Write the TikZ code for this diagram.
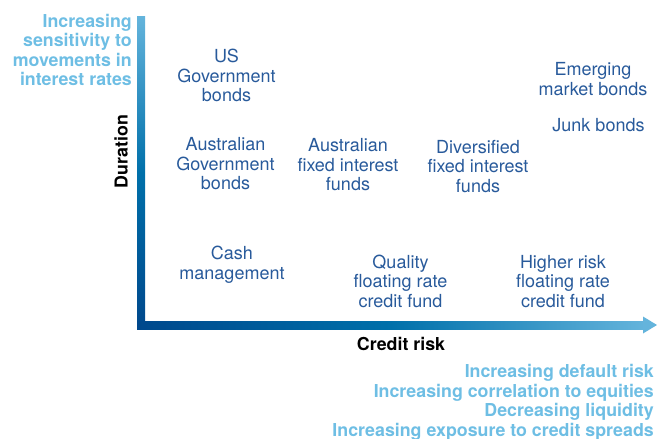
\documentclass[tikz,border=0pt]{standalone}
\usepackage{fontspec}
\setmainfont{TeX Gyre Heros}
\definecolor{labelblue}{RGB}{40,90,155}
\definecolor{notelight}{RGB}{110,190,228}
\definecolor{axdark}{RGB}{0,72,140}
\definecolor{axmid}{RGB}{0,112,170}
\definecolor{axlight}{RGB}{100,180,220}
\begin{document}
\begin{tikzpicture}[x=1pt,y=-1pt,
  lbl/.style={text=labelblue, align=center, inner sep=0pt,
    font=\fontsize{18}{19.5}\selectfont},
  note/.style={text=notelight, align=right, inner sep=0pt,
    font=\bfseries\fontsize{17.8}{19.6}\selectfont},
  axislabel/.style={text=black, inner sep=0pt,
    font=\bfseries\fontsize{17.8}{20}\selectfont}]
\useasboundingbox (0,0) rectangle (657,439);

% axes: vertical duration bar and horizontal credit-risk arrow
\shade[top color=axlight, bottom color=axdark, middle color=axmid]
  (137,16) rectangle (145,329);
\shade[left color=axdark, right color=axlight, middle color=axmid]
  (137,321) rectangle (644,329);
\fill[axlight] (643,316.5) -- (657,325) -- (643,333.5) -- cycle;

% axis titles
\node[axislabel, rotate=90] (duration) at (121,151.5) {Duration};
\node[axislabel] (credit) at (401,343.8) {Credit risk};

% axis notes
\node[note, anchor=east] (sens) at (132,50) {Increasing\\sensitivity to\\movements in\\interest rates};
\node[note, anchor=east] (risks) at (654,402.5) {Increasing default risk\\Increasing correlation to equities\\Decreasing liquidity\\Increasing exposure to credit spreads};

% asset classes
\node[lbl] (usgov) at (226.5,75.5) {US\\Government\\bonds};
\node[lbl] (augov) at (225.5,164) {Australian\\Government\\bonds};
\node[lbl] (cash) at (232,264.7) {Cash\\management};
\node[lbl] (aufixed) at (348,165) {Australian\\fixed interest\\funds};
\node[lbl] (divfixed) at (478,166.5) {Diversified\\fixed interest\\funds};
\node[lbl] (emerging) at (593,79.2) {Emerging\\market bonds};
\node[lbl] (junk) at (598.5,125.5) {Junk bonds};
\node[lbl] (quality) at (400.5,281.3) {Quality\\floating rate\\credit fund};
\node[lbl] (higher) at (563,281.3) {Higher risk\\floating rate\\credit fund};
\end{tikzpicture}
\end{document}
